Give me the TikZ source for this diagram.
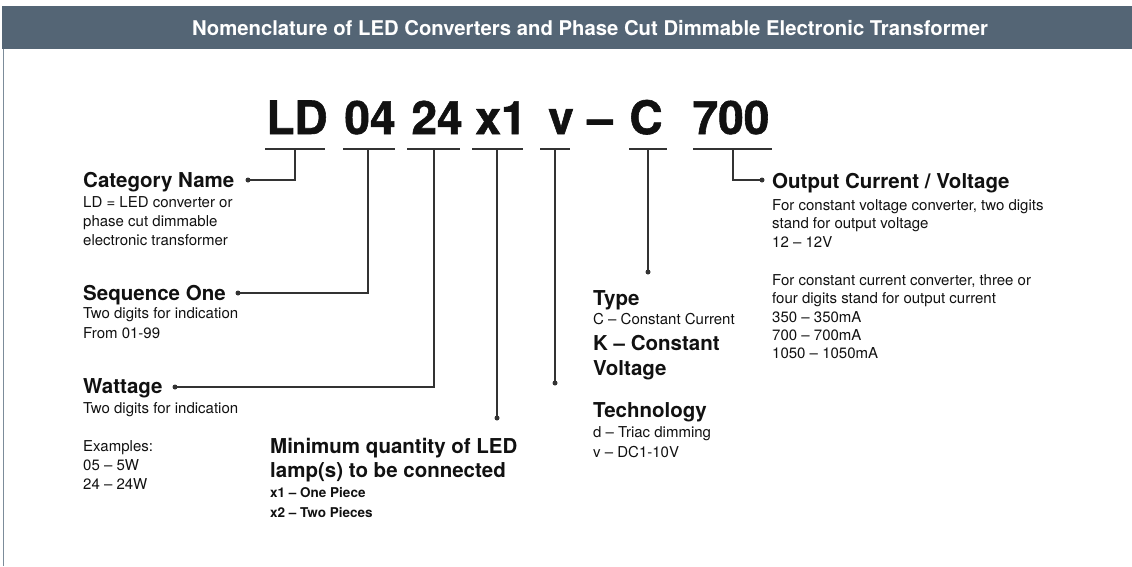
\documentclass[tikz,border=0pt]{standalone}
\usepackage{fontspec}
\setmainfont{TeX Gyre Heros}
\newfontfamily\heavyfont[FakeBold=1.2]{TeX Gyre Heros Bold}
\definecolor{barcol}{HTML}{546575}
\definecolor{edgecol}{HTML}{7C8C9A}
\definecolor{linecol}{HTML}{333333}
\definecolor{txtcol}{HTML}{111111}
\begin{document}
\begin{tikzpicture}[x=1pt,y=-1pt,
  big/.style={anchor=base,inner sep=0pt,font=\fontsize{46}{46}\selectfont\heavyfont,text=txtcol},
  head/.style={anchor=base west,inner sep=0pt,font=\fontsize{20.5}{24}\selectfont\bfseries,text=txtcol},
  body/.style={anchor=base west,inner sep=0pt,font=\fontsize{15}{18}\selectfont,text=txtcol},
  sub/.style={anchor=base west,inner sep=0pt,font=\fontsize{13.5}{16}\selectfont\bfseries,text=txtcol},
  uline/.style={draw=linecol,line width=1.2pt},
  conn/.style={draw=linecol,line width=1.3pt},
  pin/.style={circle,fill=linecol,inner sep=0pt,minimum size=5pt}]
\useasboundingbox (0,0) rectangle (1132,566);
% header
\fill[barcol] (2,6) rectangle (1132,49);
\draw[edgecol,line width=1pt] (3,49) -- (3,566);
\node[anchor=center,inner sep=0pt,text=white,font=\fontsize{20.3}{24}\selectfont\bfseries] (title) at (590,28) {Nomenclature of LED Converters and Phase Cut Dimmable Electronic Transformer};
% big code
\node[big] (tLD) at (297,134) {LD};
\node[big] (t04) at (370,134) {04};
\node[big] (t24) at (437,134) {24};
\node[big] (tx1) at (501,134) {x1};
\node[big] (tv) at (561,134) {v};
\node[big] (tdash) at (600,134) {–};
\node[big] (tC) at (646,134) {C};
\node[big] (t700) at (731,134) {700};
% underline coordinates
\coordinate (aLD) at (265,149); \coordinate (bLD) at (325,149); \coordinate (mLD) at (295,149);
\coordinate (a04) at (343,149); \coordinate (b04) at (395,149); \coordinate (m04) at (368,149);
\coordinate (a24) at (407,149); \coordinate (b24) at (460,149); \coordinate (m24) at (434,149);
\coordinate (ax1) at (472,149); \coordinate (bx1) at (523,149); \coordinate (mx1) at (497,149);
\coordinate (av) at (540,149); \coordinate (bv) at (570,149); \coordinate (mv) at (555,149);
\coordinate (aC) at (629,149); \coordinate (bC) at (667,149); \coordinate (mC) at (648,149);
\coordinate (a700) at (693,149); \coordinate (b700) at (772,149); \coordinate (m700) at (733,149);
\draw[uline] (aLD) -- (bLD);
\draw[uline] (a04) -- (b04);
\draw[uline] (a24) -- (b24);
\draw[uline] (ax1) -- (bx1);
\draw[uline] (av) -- (bv);
\draw[uline] (aC) -- (bC);
\draw[uline] (a700) -- (b700);
% pins
\node[pin] (pCat) at (248,180) {};
\node[pin] (pSeq) at (238,293) {};
\node[pin] (pWat) at (175,387) {};
\node[pin] (pX1) at (497,418) {};
\node[pin] (pV) at (555,383) {};
\node[pin] (pC) at (648,272) {};
\node[pin] (pOut) at (762,180) {};
% connectors
\draw[conn] (mLD) |- (pCat.center);
\draw[conn] (m04) |- (pSeq.center);
\draw[conn] (m24) |- (pWat.center);
\draw[conn] (mx1) -- (pX1.center);
\draw[conn] (mv) -- (pV.center);
\draw[conn] (mC) -- (pC.center);
\draw[conn] (m700) |- (pOut.center);
% Category
\node[head] (hCat) at (83,187) {Category Name};
\node[body] (cat1) at (83,207) {LD = LED converter or};
\node[body] (cat2) at (83,226) {phase cut dimmable};
\node[body] (cat3) at (83,245) {electronic transformer};
% Sequence
\node[head] (hSeq) at (83,300) {Sequence One};
\node[body] (seq1) at (83,318) {Two digits for indication};
\node[body] (seq2) at (83,338) {From 01-99};
% Wattage
\node[head] (hWat) at (83,393) {Wattage};
\node[body] (wat1) at (83,413) {Two digits for indication};
\node[body] (wat2) at (83,451) {Examples:};
\node[body] (wat3) at (83,470) {05 – 5W};
\node[body] (wat4) at (83,489) {24 – 24W};
% Minimum quantity
\node[head] (hMin1) at (270,453) {Minimum quantity of LED};
\node[head] (hMin2) at (270,477) {lamp(s) to be connected};
\node[sub] (min1) at (270,497) {x1 – One Piece};
\node[sub] (min2) at (270,517) {x2 – Two Pieces};
% Type
\node[head] (hType) at (593,305) {Type};
\node[body] (type1) at (593,324) {C – Constant Current};
\node[head] (type2) at (593,350) {K – Constant};
\node[head] (type3) at (593,375) {Voltage};
% Technology
\node[head] (hTech) at (593,417) {Technology};
\node[body] (tech1) at (593,437) {d – Triac dimming};
\node[body] (tech2) at (593,457) {v – DC1-10V};
% Output
\node[head] (hOut) at (772,188) {Output Current / Voltage};
\node[body] (out1) at (772,210) {For constant voltage converter, two digits};
\node[body] (out2) at (772,228) {stand for output voltage};
\node[body] (out3) at (772,247) {12 – 12V};
\node[body] (out4) at (772,285) {For constant current converter, three or};
\node[body] (out5) at (772,303) {four digits stand for output current};
\node[body] (out6) at (772,322) {350 – 350mA};
\node[body] (out7) at (772,340) {700 – 700mA};
\node[body] (out8) at (772,358) {1050 – 1050mA};
\end{tikzpicture}
\end{document}
